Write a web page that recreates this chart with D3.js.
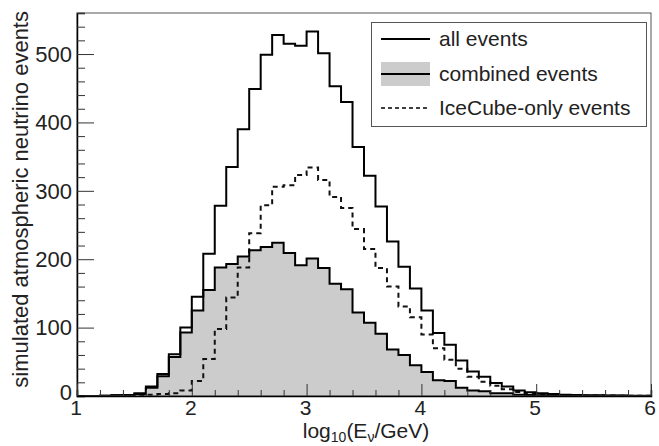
<!DOCTYPE html>
<html>
<head>
<meta charset="utf-8">
<script src="https://cdnjs.cloudflare.com/ajax/libs/d3/7.8.5/d3.min.js"></script>
<style>
  body { margin: 0; background: #fff; }
  svg { display: block; font-family: "Liberation Sans", Arial, Helvetica, sans-serif; }
</style>
</head>
<body>
<div id="chart"></div>
<script>
// left bin edges, log10(E/GeV), bin width 0.1
const binEdges = d3.range(50).map(i => +(1 + i * 0.1).toFixed(1))

// all events
const allEvents = [0, 0, 0.5, 1, 1.5, 4, 14, 32, 61, 100,
	145, 208, 278, 335, 390, 449, 499, 528, 515, 512,
	533, 501, 453, 430, 364, 322, 277, 226, 189, 157,
	125, 92, 75, 52, 36, 28, 19, 14, 8, 5.5,
	4, 3, 2, 1.5, 1.2, 1, 0.8, 0.6, 0.5, 0.4]

// combined events (shaded)
const combinedEvents = [0, 0, 0.5, 1, 1.5, 3, 12, 29, 57, 93,
	125, 155, 188, 193, 204, 213, 218, 224, 209, 191,
	201, 187, 164, 156, 122, 107, 91, 68, 60, 45,
	35, 23, 22, 12, 8, 7, 4, 4, 2, 1.5,
	1, 1, 0.5, 0.5, 0.3, 0.3, 0.2, 0.2, 0.1, 0.1]

// IceCube-only events (dashed)
const icecubeOnly = [0, 0, 0, 0, 0.3, 1, 2, 3, 4, 8,
	22, 54, 98, 144, 188, 238, 279, 306, 308, 323,
	334, 316, 291, 275, 244, 215, 187, 160, 131, 115,
	90, 70, 53, 40, 28, 21, 15, 10, 6, 4,
	3, 2, 1.5, 1, 0.9, 0.7, 0.6, 0.4, 0.4, 0.3]

const xTicks = [1, 2, 3, 4, 5, 6]
const yTicks = [0, 100, 200, 300, 400, 500]

const legendItems = [
	{ label: 'all events', kind: 'all' },
	{ label: 'combined events', kind: 'combined' },
	{ label: 'IceCube-only events', kind: 'dashed' }
]

const width = 659
const height = 446
const margin = { top: 13, right: 8, bottom: 50, left: 77 }

const svg = d3.select('#chart')
	.append('svg')
	.attr('width', width)
	.attr('height', height)

const x = d3.scaleLinear()
	.domain([1, 6])
	.range([margin.left, width - margin.right])

const y = d3.scaleLinear()
	.domain([0, 560])
	.range([height - margin.bottom, margin.top])

// step points: each bin's left edge, plus the last right edge
function stepPoints(values) {
	const pts = binEdges.map((e, i) => [e, values[i]])
	pts.push([6, values[values.length - 1]])
	return pts
}

const line = d3.line()
	.x(d => x(d[0]))
	.y(d => y(d[1]))
	.curve(d3.curveStepAfter)

const area = d3.area()
	.x(d => x(d[0]))
	.y0(y(0))
	.y1(d => y(d[1]))
	.curve(d3.curveStepAfter)

// shaded combined histogram
svg.append('path')
	.datum(stepPoints(combinedEvents))
	.attr('d', area)
	.attr('fill', '#cccccc')

svg.append('path')
	.datum(stepPoints(icecubeOnly))
	.attr('d', line)
	.attr('fill', 'none')
	.attr('stroke', '#111')
	.attr('stroke-width', 2)
	.attr('stroke-dasharray', '5,4')

svg.append('path')
	.datum(stepPoints(allEvents))
	.attr('d', line)
	.attr('fill', 'none')
	.attr('stroke', '#000')
	.attr('stroke-width', 2)

svg.append('path')
	.datum(stepPoints(combinedEvents))
	.attr('d', line)
	.attr('fill', 'none')
	.attr('stroke', '#000')
	.attr('stroke-width', 2)

// frame
svg.append('rect')
	.attr('x', x(1))
	.attr('y', y(560))
	.attr('width', x(6) - x(1))
	.attr('height', y(0) - y(560))
	.attr('fill', 'none')
	.attr('stroke', '#555')
	.attr('stroke-width', 1)

// y axis
const yAxis = svg.append('g')
	.attr('transform', `translate(${x(1)},0)`)
	.call(d3.axisRight(y).tickValues(d3.range(0, 561, 20)).tickSize(8).tickFormat(''))
yAxis.selectAll('.tick line').filter(d => d % 100 === 0).attr('x2', 17)
yAxis.select('.domain').attr('stroke-width', 1.5)
yAxis.selectAll('.tick line').attr('stroke', '#333')

svg.append('g')
	.selectAll('text')
	.data(yTicks)
	.join('text')
	.attr('x', x(1) - 5)
	.attr('y', d => y(d))
	.attr('dy', d => d === 0 ? '0.2em' : '0.35em')
	.attr('text-anchor', 'end')
	.attr('font-size', 22)
	.attr('fill', '#222')
	.text(d => d)

// x axis
const xAxis = svg.append('g')
	.attr('transform', `translate(0,${y(0)})`)
	.call(d3.axisTop(x).tickValues(d3.range(10, 61, 2).map(d => d / 10)).tickSize(6).tickFormat(''))
xAxis.selectAll('.tick line').filter(d => Math.abs(d - Math.round(d)) < 1e-6).attr('y2', -12)
xAxis.select('.domain').attr('stroke-width', 1.5)
xAxis.selectAll('.tick line').attr('stroke', '#333')

svg.append('g')
	.selectAll('text')
	.data(xTicks)
	.join('text')
	.attr('x', d => x(d) - 1)
	.attr('y', y(0) + 19)
	.attr('text-anchor', 'middle')
	.attr('font-size', 21)
	.attr('fill', '#222')
	.text(d => d)

// axis titles
const xTitle = svg.append('text')
	.attr('x', (x(1) + x(6)) / 2 + 2)
	.attr('y', 438)
	.attr('text-anchor', 'middle')
	.attr('font-size', 21)
	.attr('fill', '#222')
xTitle.append('tspan').text('log')
xTitle.append('tspan').attr('font-size', 14).attr('dy', 4).text('10')
xTitle.append('tspan').attr('dy', -4).text('(E')
xTitle.append('tspan').attr('font-size', 14).attr('dy', 4).text('ν')
xTitle.append('tspan').attr('dy', -4).text('/GeV)')

svg.append('text')
	.attr('transform', 'translate(28,11) rotate(-90)')
	.attr('text-anchor', 'end')
	.attr('font-size', 22)
	.attr('fill', '#222')
	.text('simulated atmospheric neutrino events')

// legend
const legend = svg.append('g')
legend.append('rect')
	.attr('x', 371.5)
	.attr('y', 22.5)
	.attr('width', 275)
	.attr('height', 104)
	.attr('fill', '#fff')
	.attr('stroke', '#555')

const rowY = [39, 74, 108]
const rows = legend.selectAll('.row')
	.data(legendItems)
	.join('g')
	.attr('transform', (d, i) => `translate(0,${rowY[i]})`)

rows.filter(d => d.kind === 'combined')
	.append('rect')
	.attr('x', 381)
	.attr('y', -12)
	.attr('width', 49)
	.attr('height', 24)
	.attr('fill', '#cccccc')

rows.append('line')
	.attr('x1', 381)
	.attr('x2', 430)
	.attr('stroke', '#000')
	.attr('stroke-width', d => d.kind === 'dashed' ? 1.5 : 1.8)
	.attr('stroke-dasharray', d => d.kind === 'dashed' ? '4,3' : null)

rows.append('text')
	.attr('x', 439)
	.attr('dy', '0.35em')
	.attr('font-size', 21)
	.attr('fill', '#222')
	.text(d => d.label)
</script>
</body>
</html>
